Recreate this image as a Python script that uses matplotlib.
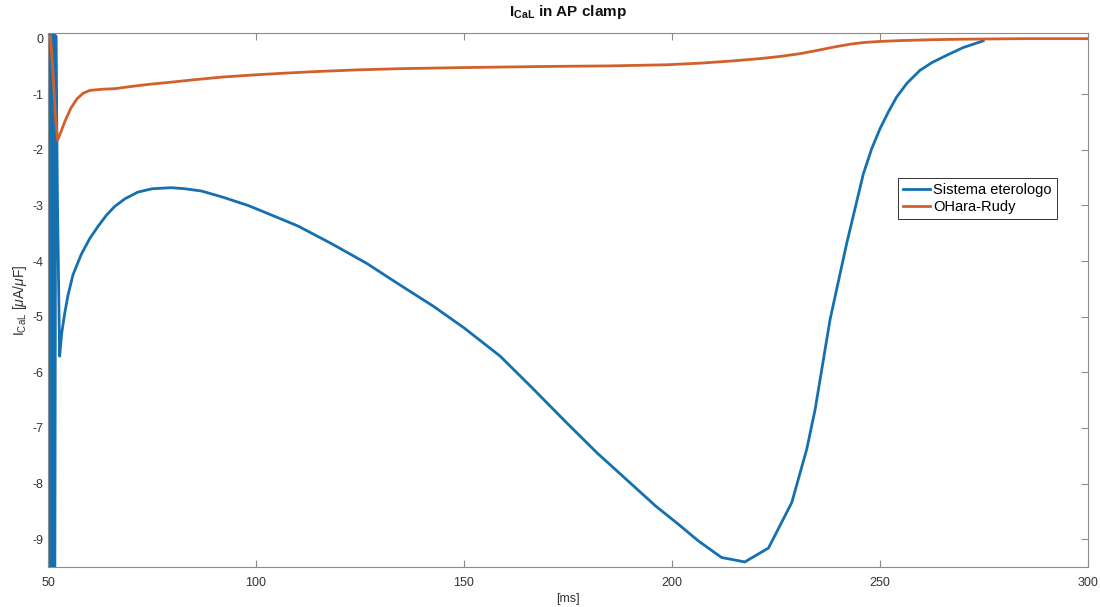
import matplotlib
matplotlib.use("Agg")
import matplotlib.pyplot as plt

plt.rcParams["font.family"] = ["Liberation Sans", "DejaVu Sans"]
plt.rcParams["mathtext.fontset"] = "custom"
plt.rcParams["mathtext.rm"] = "Liberation Sans"
plt.rcParams["mathtext.it"] = "Liberation Sans:italic"
plt.rcParams["mathtext.bf"] = "Liberation Sans:bold"
plt.rcParams["axes.unicode_minus"] = False

# heterologous system current (ms, uA/uF)
t_het = [50.0, 50.1, 50.3, 50.45, 50.6, 50.75, 50.9, 51.0, 51.45, 51.6, 51.9,
         52.3, 52.8, 53.3, 54.0, 54.8, 56.0, 58.0, 60.0, 62.0, 64.0, 66.0,
         68.5, 71.6, 75.0, 79.6, 83.0, 86.9, 92.0, 98.1, 104.0, 110.1, 118.0,
         126.6, 134.0, 142.6, 150.0, 158.7, 166.0, 174.7, 182.0, 190.7, 196.0,
         201.5, 206.3, 211.9, 217.5, 223.2, 228.8, 232.4, 234.4, 238.0, 242.0,
         246.0, 248.0, 250.0, 252.0, 254.0, 256.5, 259.6, 262.5, 266.0, 270.0,
         274.8]
i_het = [0.0, -12.0, 0.1, -12.0, 0.1, -12.0, 0.1, -12.0, 0.1, -12.0, 0.05,
         -3.0, -5.71, -5.3, -4.95, -4.62, -4.25, -3.88, -3.6, -3.38, -3.18,
         -3.02, -2.88, -2.76, -2.7, -2.68, -2.7, -2.74, -2.85, -3.0, -3.18,
         -3.37, -3.68, -4.04, -4.4, -4.81, -5.2, -5.71, -6.25, -6.91, -7.45,
         -8.04, -8.4, -8.73, -9.03, -9.33, -9.41, -9.16, -8.34, -7.38, -6.67,
         -5.05, -3.68, -2.43, -1.98, -1.62, -1.32, -1.05, -0.8, -0.57, -0.43,
         -0.3, -0.16, -0.04]

# O'Hara-Rudy model current
t_ord = [50.0, 50.6, 51.2, 51.8, 52.3, 53.0, 54.0, 55.5, 57.0, 58.5, 60.1,
         63.0, 66.0, 70.0, 74.5, 80.0, 85.0, 92.0, 100.0, 107.0, 115.0, 125.0,
         134.6, 150.0, 170.0, 185.0, 198.7, 207.0, 214.7, 221.0, 226.0, 230.8,
         235.0, 239.0, 242.8, 246.0, 250.0, 255.0, 262.0, 270.0, 285.0, 300.0]
i_ord = [0.0, 0.05, -0.6, -1.4, -1.83, -1.7, -1.5, -1.25, -1.08, -0.98, -0.93,
         -0.91, -0.9, -0.86, -0.82, -0.78, -0.74, -0.69, -0.65, -0.62, -0.59,
         -0.56, -0.54, -0.52, -0.5, -0.49, -0.47, -0.44, -0.4, -0.36, -0.32,
         -0.27, -0.21, -0.15, -0.1, -0.07, -0.05, -0.035, -0.02, -0.01, 0.0,
         0.0]

x_ticks = [50, 100, 150, 200, 250, 300]
y_ticks = [0, -1, -2, -3, -4, -5, -6, -7, -8, -9]

fig = plt.figure(figsize=(11, 6.07), dpi=100)
ax = fig.add_axes([0.0436, 0.066, 0.9455, 0.8795])

ax.plot(t_het, i_het, color="#1570b0", linewidth=2.0, label="Sistema eterologo")
ax.plot(t_ord, i_ord, color="#d2602a", linewidth=2.0, label="OHara-Rudy")

ax.set_xlim(50, 300)
ax.set_ylim(-9.5, 0.1)
ax.set_xticks(x_ticks)
ax.set_yticks(y_ticks)

for side in ax.spines.values():
    side.set_color("#8c8c8c")
    side.set_linewidth(0.8)
ax.tick_params(direction="in", top=True, right=True, length=5,
               color="#8c8c8c", labelcolor="#333333", labelsize=9)
ax.tick_params(axis="x", pad=7)

ax.set_title(r"$\mathbf{I_{CaL}}$ in AP clamp", fontsize=11,
             fontweight="bold", color="#111111", pad=12)
ax.set_xlabel("[ms]", fontsize=9, color="#333333", labelpad=3)
ax.set_ylabel(r"I$_{\mathrm{CaL}}$ [$\mu$A/$\mu$F]", fontsize=10,
              color="#333333", labelpad=2)

leg = ax.legend(loc="upper left", bbox_to_anchor=(0.817, 0.728), fontsize=10.5,
                handlelength=1.9, handletextpad=0.2, borderpad=0.35,
                labelspacing=0.2, borderaxespad=0, fancybox=False,
                framealpha=1)
leg.get_frame().set_edgecolor("#333333")
leg.get_frame().set_linewidth(0.7)

fig.savefig("out.png", dpi=100)
